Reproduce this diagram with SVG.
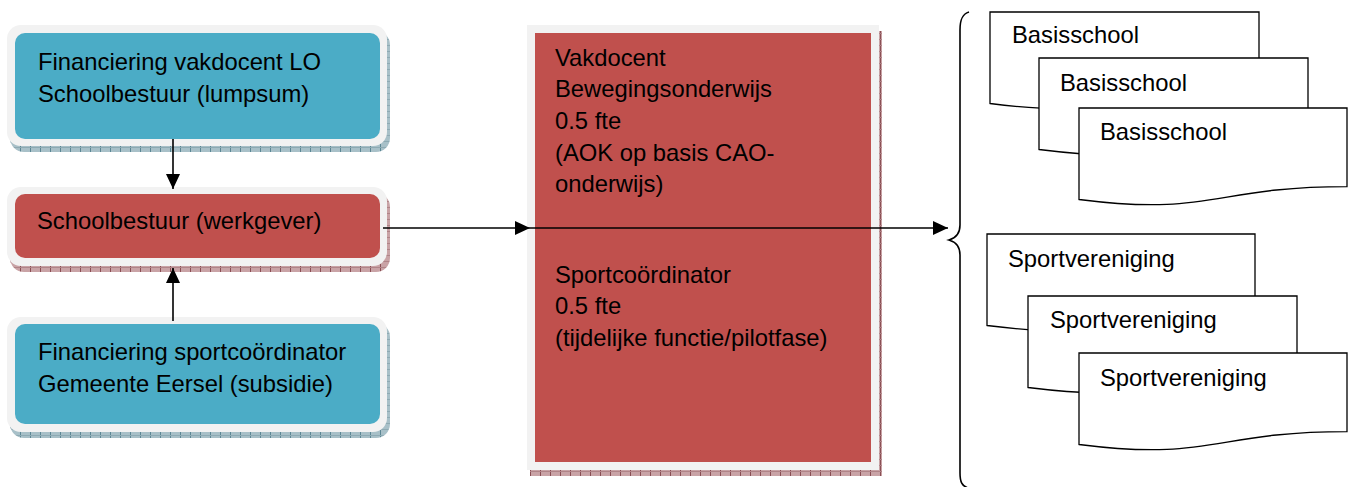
<svg xmlns="http://www.w3.org/2000/svg" width="1352" height="487" viewBox="0 0 1352 487">
<style>
text{font-family:"Liberation Sans",Arial,sans-serif;font-size:23.8px;fill:#000}
.frame{fill:#f2f2f2}
.blue{fill:#4bacc6}
.red{fill:#c0504d}
.doc{fill:#fff;stroke:#000;stroke-width:1.3}
.conn{stroke:#000;stroke-width:1.6;fill:none}
</style>
<defs>
<pattern id="shB" patternUnits="userSpaceOnUse" width="10" height="6">
<rect width="10" height="6" fill="#a8c0c8"/>
<rect x="0" y="0" width="1" height="6" fill="#5c8794"/>
<rect x="0" y="3" width="10" height="1" fill="#8eaab3"/>
</pattern>
<pattern id="shR" patternUnits="userSpaceOnUse" width="10" height="6">
<rect width="10" height="6" fill="#c9a3a6"/>
<rect x="0" y="0" width="1" height="6" fill="#8a4f54"/>
<rect x="0" y="3" width="10" height="1" fill="#b08488"/>
</pattern>
<marker id="ah" markerUnits="userSpaceOnUse" markerWidth="15" markerHeight="14" refX="15" refY="7" orient="auto">
<path d="M0,0 L15,7 L0,14 Z" fill="#000"/>
</marker>
</defs>

<g id="n-fin-lo">
<rect x="10" y="31" width="380" height="121" rx="14" fill="url(#shB)"/>
<rect class="frame" x="7" y="25" width="380" height="121" rx="14"/>
<rect class="blue" x="15" y="33" width="365" height="106" rx="10"/>
<text x="38" y="70">Financiering vakdocent LO</text>
<text x="38" y="102">Schoolbestuur (lumpsum)</text>
</g>

<g id="n-schoolbestuur">
<rect x="10" y="193" width="380" height="79" rx="14" fill="url(#shR)"/>
<rect class="frame" x="7" y="187" width="380" height="79" rx="14"/>
<rect class="red" x="15" y="194" width="365" height="64" rx="10"/>
<text x="37" y="229">Schoolbestuur (werkgever)</text>
</g>

<g id="n-fin-sport">
<rect x="10" y="323" width="380" height="115" rx="14" fill="url(#shB)"/>
<rect class="frame" x="7" y="317" width="380" height="115" rx="14"/>
<rect class="blue" x="15" y="324" width="365" height="100" rx="10"/>
<text x="38" y="360">Financiering sportcoördinator</text>
<text x="38" y="392">Gemeente Eersel (subsidie)</text>
</g>

<g id="n-functies">
<rect x="530" y="31" width="352" height="445" fill="url(#shR)"/>
<rect class="frame" x="527" y="25" width="352" height="445"/>
<rect class="red" x="535" y="33" width="336" height="429"/>
<text x="555" y="66">Vakdocent</text>
<text x="555" y="97">Bewegingsonderwijs</text>
<text x="555" y="129">0.5 fte</text>
<text x="555" y="161">(AOK op basis CAO-</text>
<text x="555" y="192">onderwijs)</text>
<text x="555" y="283">Sportcoördinator</text>
<text x="555" y="314">0.5 fte</text>
<text x="555" y="346">(tijdelijke functie/pilotfase)</text>
</g>

<g id="n-basisscholen">
<path class="doc" d="M990,12 H1259 V90.6 C1124.5,90.6 1124.5,120.5 990,103.5 Z"/>
<text x="1012" y="43">Basisschool</text>
<path class="doc" d="M1039,58 H1308 V136.6 C1173.5,136.6 1173.5,166.5 1039,149.5 Z"/>
<text x="1060" y="91">Basisschool</text>
<path class="doc" d="M1079,108 H1347 V186.6 C1213,186.6 1213,216.5 1079,199.5 Z"/>
<text x="1100" y="140">Basisschool</text>
</g>

<g id="n-sportverenigingen">
<path class="doc" d="M987,234 H1255 V312.6 C1121,312.6 1121,342.5 987,325.5 Z"/>
<text x="1008" y="267">Sportvereniging</text>
<path class="doc" d="M1028,296 H1297 V374.6 C1162.5,374.6 1162.5,404.5 1028,387.5 Z"/>
<text x="1050" y="328">Sportvereniging</text>
<path class="doc" d="M1079,353 H1347 V431.6 C1213,431.6 1213,461.5 1079,444.5 Z"/>
<text x="1100" y="386">Sportvereniging</text>
</g>

<g id="n-brace">
<path class="conn" d="M969,12 C962,14 960,20 960,30 L960,225 C960,234 956,238 949,240 C956,242 960,246 960,255 L960,473 C960,482 962,486 968,488"/>
</g>

<g id="connectors">
<line class="conn" x1="173" y1="139" x2="173" y2="189" marker-end="url(#ah)"/>
<line class="conn" x1="173" y1="321" x2="173" y2="268" marker-end="url(#ah)"/>
<line class="conn" x1="383" y1="228" x2="530" y2="228" marker-end="url(#ah)"/>
<line class="conn" x1="530" y1="228" x2="948" y2="228" marker-end="url(#ah)"/>
</g>
</svg>
